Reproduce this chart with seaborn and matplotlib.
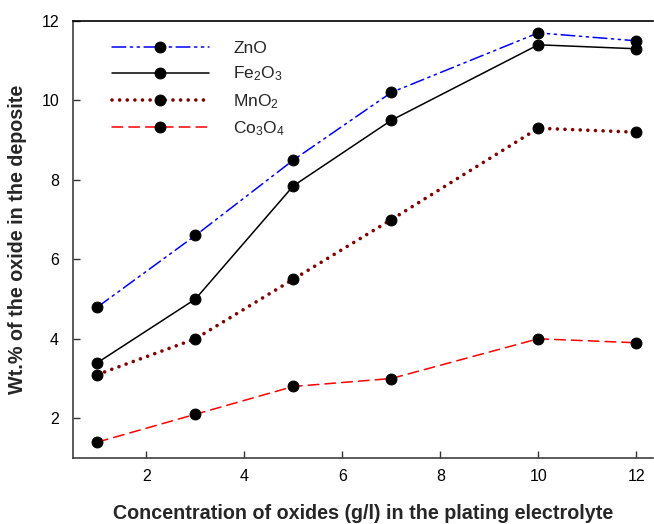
import matplotlib
matplotlib.use("Agg")
import matplotlib.pyplot as plt
import seaborn as sns
import pandas as pd

# Oxide concentration in the plating bath (g/l)
concentration = [1, 3, 5, 7, 10, 12]

# Wt.% of each oxide co-deposited
zno = [4.8, 6.6, 8.5, 10.2, 11.7, 11.5]
fe2o3 = [3.4, 5.0, 7.85, 9.5, 11.4, 11.3]
mno2 = [3.1, 4.0, 5.5, 7.0, 9.3, 9.2]
co3o4 = [1.4, 2.1, 2.8, 3.0, 4.0, 3.9]

labels = ["ZnO", r"Fe$_2$O$_3$", r"MnO$_2$", r"Co$_3$O$_4$"]

sns.set_theme(style="white")
plt.rcParams["font.family"] = ["Liberation Sans", "DejaVu Sans"]
plt.rcParams["mathtext.fontset"] = "custom"
plt.rcParams["mathtext.rm"] = "Liberation Sans"
plt.rcParams["mathtext.it"] = "Liberation Sans"

fig = plt.figure(figsize=(6.54, 5.24), dpi=100)
ax = fig.add_axes([0.1116, 0.126, 0.8874, 0.834])

series = [
    (zno, "#0000ff", (0, (9, 3, 1.5, 3, 1.5, 3)), 1.1),
    (fe2o3, "black", "-", 1.1),
    (mno2, "#800000", (0, (0.01, 2.1)), 2.6),
    (co3o4, "#ff0000", (0, (7, 4)), 1.1),
]

for (vals, color, ls, lw), lab in zip(series, labels):
    df = pd.DataFrame({"conc": concentration, "wt": vals})
    sns.lineplot(data=df, x="conc", y="wt", ax=ax, color=color, linewidth=lw,
                 marker="o", markersize=7.8, markerfacecolor="black",
                 markeredgecolor="black", label=lab)
    line = ax.lines[-1]
    line.set_linestyle(ls)
    line.set_dash_capstyle("round")

ax.set_xlim(0.5, 12.35)
ax.set_ylim(1, 12)
ax.set_xticks([2, 4, 6, 8, 10, 12])
ax.set_yticks([2, 4, 6, 8, 10, 12])
ax.tick_params(axis="both", direction="in", length=5, width=1, colors="#333333",
               labelcolor="black", labelsize=11.5, left=True, bottom=True, pad=8)
ax.tick_params(axis="y", pad=10)

for side in ["left", "bottom", "top"]:
    ax.spines[side].set_visible(True)
    ax.spines[side].set_color("#404040" if side != "top" else "black")
    ax.spines[side].set_linewidth(1.2)
ax.spines["right"].set_visible(False)

ax.set_xlabel("Concentration of oxides (g/l) in the plating electrolyte",
              fontsize=14.2, fontweight="bold", labelpad=14)
ax.set_ylabel("Wt.% of the oxide in the deposite",
              fontsize=14.2, fontweight="bold", labelpad=10)

leg = ax.legend(loc="upper left", bbox_to_anchor=(0.04, 0.99), frameon=False,
                handlelength=5.6, handletextpad=1.4, labelspacing=0.5,
                fontsize=12.5)

fig.savefig("out.png", dpi=100)
